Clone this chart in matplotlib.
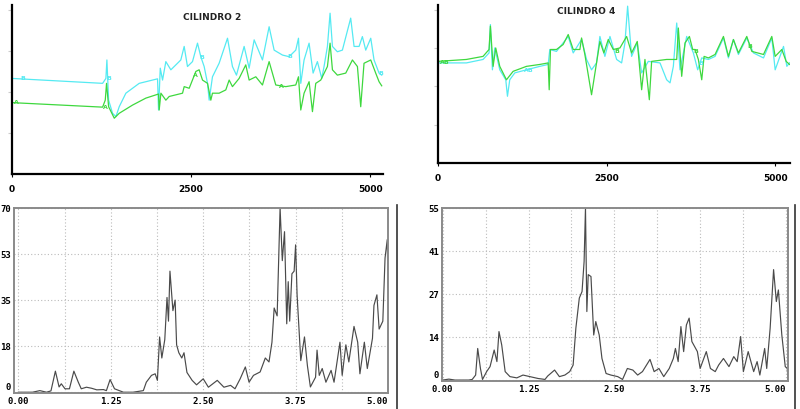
import numpy as np
import matplotlib
matplotlib.use('Agg')
import matplotlib.pyplot as plt
from matplotlib.lines import Line2D

# ---- CILINDRO 2 (time signal, two channels) ----
c2_cyan_x = [0, 1265, 1311, 1325, 1349, 1404, 1451, 1497, 1590, 1776, 2032, 2046, 2070, 2102,
             2148, 2218, 2311, 2357, 2404, 2450, 2520, 2590, 2636, 2683, 2730, 2753, 2799,
             2892, 3009, 3078, 3134, 3241, 3311, 3381, 3497, 3590, 3660, 3776, 3869, 3962,
             4000, 4032, 4078, 4148, 4204, 4264, 4325, 4357, 4404, 4441, 4474, 4543, 4613,
             4729, 4776, 4846, 4892, 4939, 5009, 5055, 5125, 5162]
c2_cyan_y = [2.33, 2.21, 2.33, 2.78, 1.80, 1.48, 1.40, 1.64, 1.97, 2.21, 2.32, 1.56, 2.58, 2.29,
             2.74, 2.54, 2.70, 2.78, 3.11, 2.62, 2.74, 3.19, 2.86, 2.62, 2.21, 1.80, 2.37,
             2.70, 3.31, 2.62, 2.41, 3.11, 2.58, 3.27, 2.78, 3.59, 3.02, 2.90, 2.86, 3.02,
             3.31, 2.21, 2.78, 3.19, 2.46, 2.74, 2.33, 2.62, 3.11, 3.92, 3.11, 2.98, 3.02,
             3.80, 3.11, 3.11, 3.35, 3.02, 3.31, 2.78, 2.46, 2.41]
c2_green_x = [0, 1265, 1302, 1320, 1349, 1428, 1497, 1683, 1869, 2046, 2055, 2079, 2148, 2195,
              2288, 2381, 2404, 2474, 2567, 2613, 2660, 2730, 2776, 2799, 2892, 2985, 3032,
              3078, 3171, 3264, 3311, 3404, 3497, 3590, 3683, 3822, 3962, 4000, 4032, 4078,
              4148, 4195, 4241, 4311, 4404, 4441, 4474, 4543, 4660, 4753, 4823, 4869, 4915,
              5009, 5078, 5125, 5162]
c2_green_y = [1.74, 1.63, 1.80, 2.21, 1.64, 1.36, 1.48, 1.68, 1.85, 1.95, 1.56, 1.97, 1.80, 1.89,
              1.93, 1.97, 2.13, 2.09, 2.50, 2.54, 2.29, 2.21, 1.80, 1.97, 1.97, 2.05, 2.29,
              2.13, 2.33, 2.66, 2.29, 2.37, 2.17, 2.74, 2.17, 2.13, 2.17, 2.37, 1.56, 1.97,
              2.25, 1.52, 2.21, 2.29, 2.62, 3.19, 2.54, 2.41, 2.46, 2.78, 2.62, 1.64, 2.70,
              2.78, 2.46, 2.25, 2.15]

# ---- CILINDRO 4 ----
c4_cyan_x = [0, 421, 668, 757, 777, 807, 842, 876, 916, 1005, 1030, 1064, 1139, 1312, 1510,
             1634, 1658, 1757, 1931, 2005, 2129, 2203, 2277, 2351, 2401, 2475, 2550, 2649,
             2723, 2772, 2812, 2871, 2955, 3020, 3119, 3292, 3391, 3441, 3490, 3540, 3589,
             3688, 3787, 3851, 3911, 4010, 4109, 4233, 4307, 4381, 4455, 4579, 4678, 4827,
             4950, 5000, 5124, 5173, 5212]
c4_cyan_y = [2.61, 2.61, 2.70, 2.87, 3.61, 2.43, 3.00, 2.74, 2.43, 2.17, 1.74, 2.17, 2.35, 2.43,
             2.52, 2.57, 2.96, 2.91, 3.30, 2.87, 3.22, 2.70, 2.43, 2.61, 3.30, 2.78, 3.30, 2.70,
             2.61, 3.13, 4.09, 2.78, 3.13, 2.35, 2.65, 2.61, 2.17, 2.09, 2.52, 3.65, 2.43,
             3.30, 2.87, 2.43, 2.74, 2.70, 2.78, 3.26, 2.74, 3.22, 2.83, 3.26, 2.87, 2.74,
             3.26, 2.43, 3.04, 2.52, 2.61]
c4_green_x = [0, 421, 668, 757, 777, 817, 856, 916, 1015, 1114, 1312, 1510, 1634, 1649, 1668,
              1757, 1856, 1931, 2005, 2104, 2129, 2178, 2277, 2351, 2401, 2460, 2525, 2599,
              2698, 2797, 2871, 2955, 3020, 3069, 3134, 3168, 3391, 3540, 3564, 3614, 3663,
              3728, 3777, 3812, 3861, 3911, 3946, 4010, 4109, 4233, 4307, 4381, 4455, 4579,
              4654, 4827, 4950, 5000, 5099, 5163, 5212]
c4_green_y = [2.65, 2.70, 2.78, 2.96, 3.57, 2.52, 3.00, 2.52, 2.17, 2.39, 2.52, 2.57, 2.61, 1.91,
              2.96, 2.96, 3.09, 3.35, 2.96, 2.96, 3.26, 2.83, 1.78, 2.61, 3.17, 2.87, 3.22,
              2.96, 3.00, 3.30, 2.87, 3.17, 1.91, 2.70, 1.65, 2.65, 2.70, 2.70, 3.52, 2.26,
              3.13, 3.30, 2.96, 2.96, 2.70, 2.17, 2.78, 2.74, 2.83, 3.30, 2.78, 3.22, 2.87,
              3.30, 2.91, 2.83, 3.30, 2.78, 2.96, 2.65, 2.57]

# ---- spectra ----
sp2_f = [0.00, 0.19, 0.29, 0.38, 0.44, 0.50, 0.55, 0.58, 0.63, 0.69, 0.75, 0.81, 0.85, 0.92,
         0.99, 1.06, 1.15, 1.19, 1.24, 1.30, 1.42, 1.55, 1.69, 1.73, 1.80, 1.85, 1.88, 1.91,
         1.94, 1.98, 2.01, 2.03, 2.05, 2.09, 2.12, 2.14, 2.17, 2.21, 2.24, 2.28, 2.35, 2.41,
         2.50, 2.57, 2.69, 2.78, 2.87, 2.93, 3.00, 3.07, 3.12, 3.18, 3.27, 3.34, 3.39, 3.43,
         3.46, 3.50, 3.54, 3.57, 3.60, 3.63, 3.65, 3.67, 3.70, 3.73, 3.75, 3.77, 3.82, 3.87,
         3.91, 3.95, 4.02, 4.04, 4.07, 4.11, 4.16, 4.23, 4.27, 4.35, 4.38, 4.43, 4.47, 4.54,
         4.59, 4.62, 4.68, 4.72, 4.79, 4.81, 4.85, 4.88, 4.93, 4.96, 4.99, 5.00]
sp2_a = [0, 0, 0.6, 0, 0.5, 8.0, 2.0, 3.2, 1.3, 1.3, 8.0, 3.8, 1.3, 1.9,
         1.5, 0.9, 1.0, 0.6, 4.8, 1.3, 0, 0, 0.6, 3.8, 6.4, 7.0, 4.5, 21,
         13, 20, 36, 27, 46, 31, 35, 18, 15, 13, 15, 7.5, 4.5, 2.8,
         5.1, 1.9, 4.5, 1.9, 2.6, 1.3, 5.1, 9.6, 3.8, 6.4, 7.7, 13, 11.5, 19,
         32, 29, 70, 50, 61, 26, 42, 27, 45, 46, 56, 37, 12, 21,
         10, 2, 5.7, 16, 6.4, 9, 3.8, 8.3, 3.8, 19, 6.4, 18, 11.5, 25,
         19, 7, 19, 9, 20.5, 33, 37, 24, 27, 51, 58, 40]

sp4_f = [0.00, 0.09, 0.18, 0.38, 0.43, 0.48, 0.51, 0.55, 0.58, 0.64, 0.69, 0.75, 0.79, 0.82,
         0.86, 0.91, 0.98, 1.08, 1.17, 1.27, 1.39, 1.49, 1.53, 1.63, 1.70, 1.78, 1.85, 1.90,
         1.94, 1.99, 2.03, 2.06, 2.08, 2.10, 2.12, 2.16, 2.20, 2.23, 2.28, 2.32, 2.38, 2.45,
         2.55, 2.62, 2.69, 2.77, 2.84, 2.91, 3.02, 3.08, 3.15, 3.22, 3.30, 3.36, 3.39, 3.43,
         3.47, 3.51, 3.55, 3.59, 3.63, 3.71, 3.75, 3.84, 3.90, 3.97, 4.02, 4.09, 4.17, 4.24,
         4.29, 4.34, 4.38, 4.45, 4.53, 4.58, 4.62, 4.69, 4.72, 4.77, 4.82, 4.86, 4.89, 4.94,
         4.99, 5.02, 5.03]
sp4_a = [0, 0.3, 0, 0, 0.2, 1.6, 10.1, 3.7, 0.2, 2.7, 4.3, 9.6, 5.9, 15.5,
         11.2, 2.7, 1.1, 0.7, 1.6, 1.1, 0.5, 0.2, 1.3, 3.2, 1.1, 1.6, 2.7, 4.8,
         16.6, 26.2, 28.3, 37.9, 55, 21.9, 33.7, 33.1, 14.4, 18.7, 14.4, 6.9, 2.1, 1.6,
         1.1, 0.2, 3.7, 3.2, 1.6, 2.7, 6.6, 2.7, 3.7, 1.1, 3.7, 6.9, 10.1, 5.9,
         17.1, 9.1, 17.6, 19.8, 12.3, 9.1, 3.7, 9.1, 3.7, 2.7, 4.8, 6.9, 4.3, 7.5,
         5.9, 13.9, 2.7, 9.1, 2.7, 5.9, 1.6, 10.1, 3.7, 16.6, 35.3, 25.1, 28.8, 14.4,
         4.3, 3.7, 0]

freq_ticks = [0, 1.25, 2.5, 3.75, 5.0]
freq_labels = ['0.00', '1.25', '2.50', '3.75', '5.00']
sp2_yticks = [0, 17.5, 35, 52.5, 70]
sp2_ylabels = ['0', '18', '35', '53', '70']
sp4_yticks = [0, 13.75, 27.5, 41.25, 55]
sp4_ylabels = ['0', '14', '27', '41', '55']

CYAN = '#55eaf2'
GREEN = '#3ed83e'
W, H = 800, 409

fig = plt.figure(figsize=(8, 4.09), dpi=100)


def box(l, t, r, b):
    # pixel box -> figure fraction
    return [l / W, 1 - b / H, (r - l) / W, (b - t) / H]


def top_panel(rect, cx, cy, gx, gy, xmax, title, tx, ty, marks):
    ax = fig.add_axes(rect)
    ax.plot(cx, cy, color=CYAN, lw=0.9)
    ax.plot(gx, gy, color=GREEN, lw=0.9)
    for x, y, s, c in marks:
        ax.text(x, y, s, color=c, fontsize=4.5, fontweight='bold', ha='center', va='center')
    ax.set_xlim(0, xmax)
    ax.set_ylim(0, 4.12)
    for s in ['top', 'right']:
        ax.spines[s].set_visible(False)
    ax.spines['left'].set_linewidth(1.6)
    ax.spines['bottom'].set_linewidth(1.6)
    ax.set_xticks([0, 2500, 5000])
    ax.set_xticklabels(['0', '2500', '5000'], fontsize=6.5, fontweight='bold',
                       family='DejaVu Sans')
    ax.set_yticks([1, 2, 3, 4])
    ax.set_yticklabels([])
    ax.tick_params(axis='y', length=3, color='#cccccc', width=0.8)
    ax.tick_params(axis='x', length=2, pad=6)
    ax.text(tx, ty, title, transform=ax.transAxes, ha='center', va='top',
            fontsize=6.5, fontweight='bold', color='#222222')
    return ax


top_panel(box(12, 5, 383, 174), c2_cyan_x, c2_cyan_y, c2_green_x, c2_green_y, 5180,
          'CILINDRO 2', 0.54, 0.95,
          [(150, 2.33, 'B', CYAN), (1357, 2.33, 'B', CYAN), (2650, 2.85, 'B', CYAN),
           (3880, 2.86, 'B', CYAN), (5150, 2.45, 'B', CYAN),
           (60, 1.74, 'A', GREEN), (1300, 1.63, 'A', GREEN), (2560, 2.4, 'A', GREEN),
           (3760, 2.13, 'A', GREEN)])
top_panel(box(438, 5, 790, 163), c4_cyan_x, c4_cyan_y, c4_green_x, c4_green_y, 5220,
          'CILINDRO 4', 0.42, 0.985,
          [(100, 2.63, 'AB', GREEN), (1340, 2.4, 'AB', CYAN), (2650, 2.9, 'B', GREEN),
           (3830, 2.9, 'B', GREEN), (3900, 2.6, 'B', CYAN), (4620, 3.05, 'B', GREEN)])


def spec_panel(rect, f, a, xlim, ylim, yticks, ylabels):
    ax = fig.add_axes(rect)
    ax.plot(f, a, color='#4a4a4a', lw=0.85)
    ax.set_xlim(*xlim)
    ax.set_ylim(*ylim)
    ax.set_xticks(freq_ticks)
    ax.set_xticklabels(freq_labels)
    ax.set_xticks(np.arange(0.625, 5, 0.625), minor=True)
    ax.set_yticks(yticks)
    ax.set_yticklabels(ylabels)
    ax.tick_params(which='both', length=0, labelsize=6.5, pad=2)
    ax.tick_params(axis='x', pad=3)
    for lab in ax.get_xticklabels() + ax.get_yticklabels():
        lab.set_family('DejaVu Sans Mono')
        lab.set_fontweight('bold')
    # lift the lowest amplitude label so it clears the 0.00 label below it
    ax.get_yticklabels()[0].set_va('bottom')
    # last frequency label sits inside the frame, as in the original
    ax.get_xticklabels()[-1].set_ha('right')
    ax.grid(which='both', axis='x', color='#bbbbbb', ls=(0, (1, 2)), lw=0.8)
    ax.grid(which='major', axis='y', color='#bbbbbb', ls=(0, (1, 2)), lw=0.8)
    for s in ax.spines.values():
        s.set_color('#8a8a8a')
        s.set_linewidth(1.4)
    return ax


spec_panel(box(14, 208, 388, 393), sp2_f, sp2_a, (-0.06, 5.0), (-0.3, 70),
           sp2_yticks, sp2_ylabels)
spec_panel(box(442, 208, 788, 381), sp4_f, sp4_a, (-0.01, 5.03), (-0.3, 55),
           sp4_yticks, sp4_ylabels)

# separator lines at the right of the lower panels
fig.add_artist(Line2D([397 / W, 397 / W], [0, 1 - 205 / H], color='#333333', lw=1.2))
fig.add_artist(Line2D([795 / W, 795 / W], [0, 1 - 205 / H], color='#333333', lw=1.2))

fig.savefig('out.png', dpi=100)
